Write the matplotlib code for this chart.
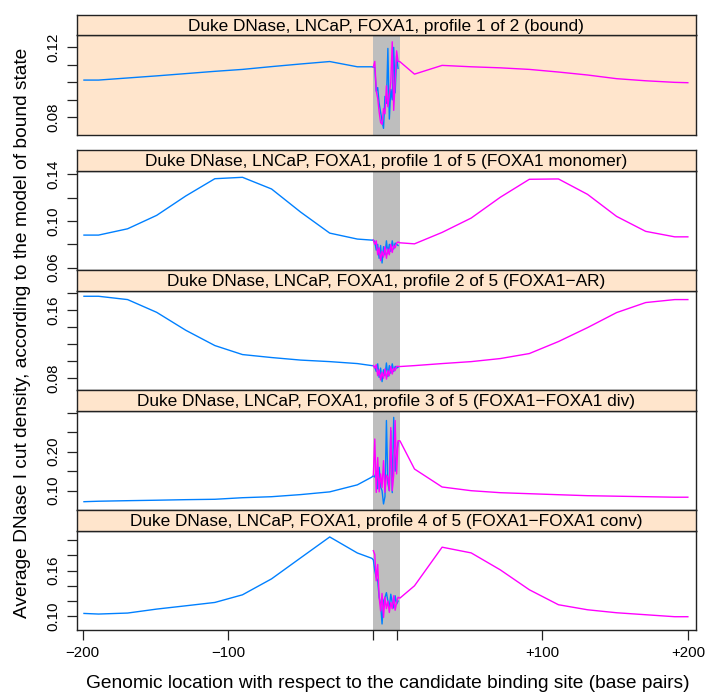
import matplotlib
matplotlib.use("Agg")
import matplotlib.pyplot as plt
from matplotlib.patches import Rectangle

plt.rcParams['font.family'] = ['Liberation Sans', 'DejaVu Sans']

# ---------------- data ----------------
left_pos = [-199, -189, -169, -149, -129, -109, -90, -70, -50, -30, -11, -1]
motif_pos = list(range(18))
motif_end = 16.3
right_off = [2, 12, 31, 51, 71, 91, 111, 131, 151, 171, 191, 200]

strip_labels = [
    "Duke DNase, LNCaP, FOXA1, profile 1 of 2 (bound)",
    "Duke DNase, LNCaP, FOXA1, profile 1 of 5 (FOXA1 monomer)",
    "Duke DNase, LNCaP, FOXA1, profile 2 of 5 (FOXA1\u2212AR)",
    "Duke DNase, LNCaP, FOXA1, profile 3 of 5 (FOXA1\u2212FOXA1 div)",
    "Duke DNase, LNCaP, FOXA1, profile 4 of 5 (FOXA1\u2212FOXA1 conv)",
]

left_p1 = [0.1013, 0.1013, 0.1025, 0.1037, 0.1050, 0.1063, 0.1074, 0.1090, 0.1105, 0.1119, 0.1089, 0.1089]
motif_blue_p1 = [0.1087, 0.1085, 0.095, 0.097, 0.088, 0.083, 0.078, 0.0737, 0.092, 0.088, 0.1194, 0.079, 0.096, 0.090, 0.120, 0.094, 0.115, 0.108]
motif_mag_p1 = [0.1087, 0.112, 0.095, 0.091, 0.083, 0.077, 0.076, 0.085, 0.082, 0.098, 0.086, 0.093, 0.100, 0.1232, 0.084, 0.100, 0.118, 0.112]
right_p1 = [0.1118, 0.1047, 0.1097, 0.1089, 0.1083, 0.1074, 0.1059, 0.1042, 0.1021, 0.1009, 0.1000, 0.0998]

left_p2 = [0.0879, 0.0879, 0.0933, 0.1048, 0.1214, 0.1362, 0.1374, 0.1274, 0.1076, 0.0896, 0.0845, 0.0836]
motif_blue_p2 = [0.0836, 0.082, 0.075, 0.080, 0.068, 0.079, 0.064, 0.078, 0.071, 0.083, 0.072, 0.080, 0.074, 0.083, 0.076, 0.081, 0.080, 0.079]
motif_mag_p2 = [0.0836, 0.080, 0.083, 0.071, 0.077, 0.066, 0.074, 0.069, 0.078, 0.068, 0.076, 0.071, 0.080, 0.073, 0.079, 0.077, 0.081, 0.082]
right_p2 = [0.0813, 0.0804, 0.0902, 0.1025, 0.1203, 0.1357, 0.1360, 0.1228, 0.1039, 0.0911, 0.0864, 0.0864]

left_p3 = [0.1765, 0.1765, 0.1726, 0.1576, 0.1365, 0.1185, 0.1079, 0.1044, 0.1014, 0.0996, 0.0973, 0.0949]
motif_blue_p3 = [0.0949, 0.093, 0.088, 0.097, 0.081, 0.092, 0.076, 0.090, 0.083, 0.098, 0.082, 0.095, 0.086, 0.097, 0.088, 0.094, 0.092, 0.093]
motif_mag_p3 = [0.0949, 0.092, 0.096, 0.083, 0.090, 0.078, 0.087, 0.080, 0.091, 0.079, 0.089, 0.083, 0.094, 0.085, 0.092, 0.089, 0.094, 0.094]
right_p3 = [0.0938, 0.0949, 0.0973, 0.0996, 0.1032, 0.1091, 0.1232, 0.1396, 0.1573, 0.1691, 0.1726, 0.1726]

left_p4 = [0.0718, 0.0730, 0.0744, 0.0756, 0.0770, 0.0780, 0.0820, 0.0846, 0.0900, 0.0970, 0.1150, 0.1350]
motif_blue_p4 = [0.1385, 0.135, 0.150, 0.105, 0.160, 0.110, 0.100, 0.066, 0.085, 0.280, 0.120, 0.100, 0.254, 0.095, 0.288, 0.150, 0.195, 0.224]
motif_mag_p4 = [0.140, 0.2326, 0.0956, 0.185, 0.097, 0.143, 0.108, 0.177, 0.096, 0.140, 0.134, 0.100, 0.262, 0.100, 0.140, 0.280, 0.143, 0.228]
right_p4 = [0.2280, 0.1556, 0.1095, 0.1000, 0.0949, 0.0923, 0.0897, 0.0872, 0.0859, 0.0846, 0.0833, 0.0833]

left_p5 = [0.1038, 0.1030, 0.1043, 0.1095, 0.1138, 0.1182, 0.1282, 0.1491, 0.1766, 0.2040, 0.1830, 0.1760]
motif_blue_p5 = [0.174, 0.160, 0.151, 0.1465, 0.125, 0.116, 0.090, 0.120, 0.1247, 0.131, 0.120, 0.112, 0.129, 0.118, 0.111, 0.127, 0.116, 0.120]
motif_mag_p5 = [0.186, 0.181, 0.1465, 0.168, 0.125, 0.107, 0.130, 0.0986, 0.125, 0.110, 0.120, 0.105, 0.118, 0.110, 0.127, 0.108, 0.118, 0.125]
right_p5 = [0.1239, 0.1400, 0.1906, 0.1831, 0.1609, 0.1348, 0.1152, 0.1086, 0.1047, 0.1021, 0.0995, 0.0995]

ylims = [(0.0699, 0.1269), (0.058, 0.1428), (0.0662, 0.1827), (0.0505, 0.3044), (0.0821, 0.2118)]
yticks = [[0.08, 0.09, 0.10, 0.11, 0.12],
          [0.06, 0.08, 0.10, 0.12, 0.14],
          [0.08, 0.10, 0.12, 0.14, 0.16, 0.18],
          [0.10, 0.15, 0.20, 0.25, 0.30],
          [0.10, 0.12, 0.14, 0.16, 0.18, 0.20]]
yticklabels = [["0.08", "", "", "", "0.12"],
               ["0.06", "", "0.10", "", "0.14"],
               ["0.08", "", "", "", "0.16", ""],
               ["0.10", "", "0.20", "", ""],
               ["0.10", "", "", "0.16", "", ""]]

x_tick_labels = ["\u2212200", "\u2212100", "", "", "+100", "+200"]

panels = [
    (left_p1, motif_blue_p1, motif_mag_p1, right_p1),
    (left_p2, motif_blue_p2, motif_mag_p2, right_p2),
    (left_p3, motif_blue_p3, motif_mag_p3, right_p3),
    (left_p4, motif_blue_p4, motif_mag_p4, right_p4),
    (left_p5, motif_blue_p5, motif_mag_p5, right_p5),
]

# ---------------- layout ----------------
W, H = 706, 696
fig = plt.figure(figsize=(W / 100, H / 100), dpi=100)

x0, x1 = 76.7, 696.0
# (strip_top, strip_bottom/plot_top, plot_bottom) in px from top
boxes = [(14.7, 35.3, 135.0), (150.0, 171.0, 270.0), (270.0, 291.0, 390.0),
         (390.0, 411.0, 510.0), (510.0, 531.0, 630.0)]

def fig_rect(top, bottom):
    return [x0 / W, 1 - bottom / H, (x1 - x0) / W, (bottom - top) / H]

BLUE = "#0080ff"
MAG = "#ff00ff"
PEACH = "#ffe5cc"
FRAME = "#222222"

right_pos = [motif_end + d for d in right_off]
xticks = [-200, -100, 0, motif_end, motif_end + 100, motif_end + 200]

for i, (st, pt, pb) in enumerate(boxes):
    left_v, mb, mm, right_v = panels[i]
    ax = fig.add_axes(fig_rect(pt, pb))
    ax.set_facecolor(PEACH if i == 0 else "white")
    ax.set_xlim(-204, motif_end + 205.6)
    ax.set_ylim(*ylims[i])
    ax.add_patch(Rectangle((-0.1, ylims[i][0]), 18.3, ylims[i][1] - ylims[i][0],
                           facecolor="#bebebe", edgecolor="none", zorder=1))
    ax.plot(left_pos + motif_pos, left_v + mb, color=BLUE, lw=1.0, zorder=3)
    ax.plot(motif_pos + right_pos, mm + right_v, color=MAG, lw=1.0, zorder=3)
    for s in ax.spines.values():
        s.set_linewidth(1.0)
        s.set_color(FRAME)
    ax.set_yticks(yticks[i])
    ax.set_yticklabels(yticklabels[i])
    ax.tick_params(axis='y', left=True, right=False, length=7.2, width=0.9,
                   pad=4.6, labelsize=10.8, labelrotation=90, color=FRAME)
    for lab in ax.get_yticklabels():
        lab.set_va('center')
    ax.set_xticks(xticks)
    if i == 0:
        ax.xaxis.set_ticks_position('top')
        ax.set_xticklabels([""] * 6)
        ax.tick_params(axis='x', length=7.2, width=0.9, color=FRAME)
    elif i == 4:
        ax.set_xticklabels(x_tick_labels)
        ax.tick_params(axis='x', length=7.2, width=0.9, pad=4.6,
                       labelsize=10.8, color=FRAME)
    else:
        ax.tick_params(axis='x', bottom=False, labelbottom=False)

    sax = fig.add_axes(fig_rect(st, pt))
    sax.set_facecolor(PEACH)
    sax.set_xticks([])
    sax.set_yticks([])
    for s in sax.spines.values():
        s.set_linewidth(1.0)
        s.set_color(FRAME)
    sax.text(0.5, 0.45, strip_labels[i], ha='center', va='center',
             fontsize=12.4, transform=sax.transAxes)

fig.text((x0 + x1) / 2 / W + 1.5 / W, 1 - 684 / H,
         "Genomic location with respect to the candidate binding site (base pairs)",
         ha='center', va='center', fontsize=13.8)
fig.text(22.5 / W, 1 - 333 / H,
         "Average DNase I cut density, according to the model of bound state",
         ha='center', va='center', rotation=90, fontsize=13.8)

fig.savefig("out.png", dpi=100)
